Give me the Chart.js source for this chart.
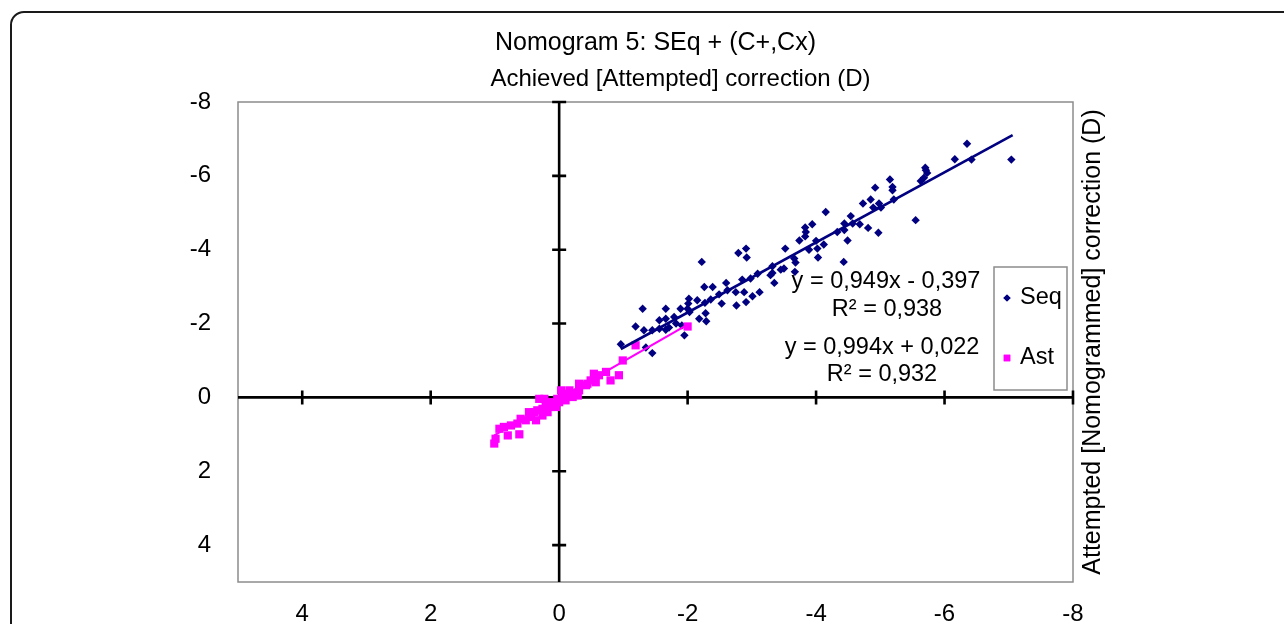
<!DOCTYPE html>
<html>
<head>
<meta charset="utf-8">
<title>Nomogram 5</title>
<script src="https://cdn.jsdelivr.net/npm/chart.js@4.4.0/dist/chart.umd.min.js"></script>
<style>
  html, body { margin: 0; padding: 0; background: #fff; overflow: hidden; }
  #wrap { position: relative; width: 1284px; height: 624px; }
  #frame { position: absolute; left: 10px; top: 11px; width: 1400px; height: 800px;
           border: 2px solid #1a1a1a; border-radius: 14px; box-sizing: border-box; }
  #chart { position: absolute; left: 0; top: 0; }
</style>
</head>
<body>
<div id="wrap">
  <div id="frame"></div>
  <canvas id="chart" width="1284" height="624"></canvas>
</div>
<script>
// Achieved (x) vs attempted (y) correction, dioptres
const seqX = [-7.04, -6.35, -6.16, -6.42, -5.70, -5.71, -5.73, -5.68, -5.63, -5.15,
  -5.19, -5.19, -5.21, -4.92, -4.85, -4.73, -4.89, -4.98, -5.01, -5.55,
  -4.97, -4.81, -4.68, -4.57, -4.44, -4.44, -4.49, -4.54, -4.33, -4.15,
  -4.43, -3.94, -3.83, -3.84, -3.83, -3.74, -4.00, -3.89, -4.02, -4.12,
  -4.03, -3.52, -3.66, -3.68, -3.67, -3.50, -3.45, -3.32, -3.32, -3.35,
  -3.29, -2.79, -2.91, -2.92, -2.22, -3.09, -2.98, -2.85, -2.75, -2.88,
  -3.01, -3.12, -2.91, -2.76, -2.60, -2.62, -2.49, -2.39, -2.26, -2.36,
  -2.27, -2.15, -2.53, -2.02, -2.01, -2.00, -1.89, -2.03, -2.18, -2.28,
  -2.29, -1.66, -1.56, -1.66, -1.79, -1.82, -1.71, -1.66, -1.56, -1.45,
  -1.32, -1.30, -1.19, -1.91, -1.95, -1.35, -1.45, -0.96];
const seqY = [-6.44, -6.87, -6.45, -6.44, -6.22, -6.15, -6.08, -5.95, -5.86, -5.90,
  -5.70, -5.61, -5.36, -5.68, -5.36, -5.25, -5.14, -5.25, -5.14, -4.80,
  -4.46, -4.59, -4.69, -4.71, -4.71, -4.53, -4.25, -4.91, -4.48, -5.02,
  -3.67, -4.69, -4.60, -4.48, -4.36, -4.25, -4.24, -4.00, -4.03, -4.14,
  -3.79, -4.03, -3.76, -3.65, -3.40, -3.49, -3.46, -3.55, -3.37, -3.10,
  -3.31, -3.91, -4.03, -3.79, -3.67, -3.35, -3.22, -3.19, -2.85, -2.85,
  -2.74, -2.85, -2.58, -2.49, -3.10, -2.90, -2.79, -2.99, -2.99, -2.65,
  -2.56, -2.63, -2.54, -2.67, -2.54, -2.40, -2.40, -2.31, -2.13, -2.28,
  -2.06, -2.40, -2.09, -2.13, -2.18, -2.00, -1.89, -1.83, -1.86, -1.82,
  -1.82, -2.40, -1.92, -1.95, -1.68, -1.35, -1.20, -1.44];

const astX = [-0.99, -0.93, -0.80, -0.73, -0.62, -0.54, -0.57, -0.49, -0.42, -0.31,
  -0.23, -0.29, -0.16, -0.10, -0.05, 0.03, 0.00, 0.08, 0.16, 0.13,
  0.21, 0.26, 0.31, 0.34, 0.39, 0.26, 0.44, 0.52, 0.60, 0.65,
  0.75, 0.86, 0.93, 0.99, 1.01, 0.80, 0.62, 0.23, 0.05, -0.10,
  -0.21, -0.31, -0.44, -1.19, -2.00, 0.18, -0.03, 0.36, 0.47];
const astY = [-1.00, -0.60, -0.46, -0.69, -0.60, -0.64, -0.41, -0.46, -0.33, -0.37,
  -0.10, -0.05, -0.19, -0.10, -0.01, 0.04, 0.13, 0.17, 0.13, 0.26,
  0.22, 0.31, 0.04, 0.35, 0.40, 0.49, 0.53, 0.62, 0.58, 0.71,
  0.76, 0.80, 0.85, 1.12, 1.25, 1.03, 1.00, 0.04, 0.26, 0.08,
  -0.01, -0.19, -0.37, -1.41, -1.92, 0.40, -0.19, 0.62, 0.40];

// linear trend lines (end points)
const seqTrendX = [-0.96, -7.06];
const seqTrendY = [-1.31, -7.10];
const astTrendX = [1.01, -2.00];
const astTrendY = [1.03, -1.97];

const xTicks = [4, 2, 0, -2, -4, -6, -8];
const yTicks = [-8, -6, -4, -2, 0, 2, 4];

const seqEquation = ['y = 0,949x - 0,397', 'R² = 0,938'];
const astEquation = ['y = 0,994x + 0,022', 'R² = 0,932'];

const SEQ_COLOR = '#000080';
const AST_COLOR = '#ff00ff';
const FONT = "'Liberation Sans', Arial, sans-serif";

function toPoints(xs, ys) {
  return xs.map((x, i) => ({ x: x, y: ys[i] }));
}

// zero-crossing axes, plot border, legend, labels (Excel style)
const excelLook = {
  id: 'excelLook',
  beforeDatasetsDraw(chart) {
    const { ctx, chartArea: a, scales } = chart;
    const x0 = scales.x.getPixelForValue(0);
    const y0 = scales.y.getPixelForValue(0);
    ctx.save();
    ctx.strokeStyle = '#8c8c8c';
    ctx.lineWidth = 1.5;
    ctx.strokeRect(a.left, a.top, a.right - a.left, a.bottom - a.top);

    ctx.strokeStyle = '#000';
    ctx.lineWidth = 2.6;
    ctx.beginPath();
    ctx.moveTo(a.left, y0); ctx.lineTo(a.right, y0);
    ctx.moveTo(x0, a.top); ctx.lineTo(x0, a.bottom);
    scales.x.ticks.forEach(t => {
      if (t.value === 0) return;
      const px = scales.x.getPixelForValue(t.value);
      ctx.moveTo(px, y0 - 7); ctx.lineTo(px, y0 + 7);
    });
    scales.y.ticks.forEach(t => {
      if (t.value === 0) return;
      const py = scales.y.getPixelForValue(t.value);
      ctx.moveTo(x0 - 7, py); ctx.lineTo(x0 + 7, py);
    });
    ctx.stroke();
    ctx.restore();
  },
  afterDraw(chart) {
    const { ctx, chartArea: a } = chart;
    ctx.save();
    ctx.fillStyle = '#000';
    ctx.textAlign = 'center';
    ctx.textBaseline = 'middle';

    // top axis title
    ctx.font = '24px ' + FONT;
    ctx.fillText('Achieved [Attempted] correction (D)', (a.left + a.right) / 2 + 25, 79);

    // right axis title
    ctx.save();
    ctx.translate(a.right + 20, (a.top + a.bottom) / 2);
    ctx.rotate(-Math.PI / 2);
    ctx.font = '25px ' + FONT;
    ctx.fillText('Attempted [Nomogrammed] correction (D)', 0, 0);
    ctx.restore();

    // trendline equations
    ctx.font = '23.5px ' + FONT;
    ctx.fillText(seqEquation[0], a.right - 187, 282);
    ctx.fillText(seqEquation[1], a.right - 186, 310);
    ctx.fillText(astEquation[0], a.right - 191, 348);
    ctx.fillText(astEquation[1], a.right - 191, 375);

    // legend box
    const bx = a.right - 79, by = 267, bw = 73, bh = 123;
    ctx.fillStyle = '#fff';
    ctx.fillRect(bx, by, bw, bh);
    ctx.strokeStyle = '#8c8c8c';
    ctx.lineWidth = 1.5;
    ctx.strokeRect(bx, by, bw, bh);

    const ds = chart.data.datasets;
    const rows = [{ d: ds[0], y: by + 31 }, { d: ds[1], y: by + 91 }];
    rows.forEach(r => {
      ctx.fillStyle = r.d.backgroundColor;
      Chart.helpers.drawPoint(ctx, {
        pointStyle: r.d.pointStyle,
        radius: r.d.pointStyle === 'rect' ? 4.6 : 3.6,
        borderWidth: 0
      }, bx + 13, r.y);
      ctx.fill();
      ctx.fillStyle = '#000';
      ctx.textAlign = 'left';
      ctx.font = '23.5px ' + FONT;
      ctx.fillText(r.d.label, bx + 26, r.y);
    });
    ctx.restore();
  }
};

Chart.defaults.font.family = FONT;
Chart.defaults.color = '#000';

const chart = new Chart(document.getElementById('chart'), {
  type: 'scatter',
  data: {
    datasets: [
      {
        label: 'Seq',
        data: toPoints(seqX, seqY),
        pointStyle: 'rectRot',
        pointRadius: 4.2,
        backgroundColor: SEQ_COLOR,
        borderColor: SEQ_COLOR,
        borderWidth: 0,
        order: 2
      },
      {
        label: 'Ast',
        data: toPoints(astX, astY),
        pointStyle: 'rect',
        pointRadius: 5.8,
        backgroundColor: AST_COLOR,
        borderColor: AST_COLOR,
        borderWidth: 0,
        order: 1
      },
      {
        label: 'Seq trend',
        data: toPoints(seqTrendX, seqTrendY),
        showLine: true,
        pointRadius: 0,
        borderColor: SEQ_COLOR,
        borderWidth: 2.6,
        order: 0
      },
      {
        label: 'Ast trend',
        data: toPoints(astTrendX, astTrendY),
        showLine: true,
        pointRadius: 0,
        borderColor: AST_COLOR,
        borderWidth: 2.2,
        order: 0
      }
    ]
  },
  options: {
    responsive: false,
    animation: false,
    layout: { padding: { left: 0, right: 211, top: 0, bottom: 0 } },
    plugins: {
      legend: { display: false },
      tooltip: { enabled: false },
      title: {
        display: true,
        fullSize: false,
        text: 'Nomogram 5: SEq + (C+,Cx)',
        color: '#000',
        font: { size: 25, weight: 'normal' },
        padding: { top: 28, bottom: 44 }
      }
    },
    scales: {
      x: {
        type: 'linear',
        min: -8,
        max: 5,
        reverse: true,
        afterBuildTicks: s => { s.ticks = xTicks.map(v => ({ value: v })); },
        afterFit: s => { s.height = 42; },
        grid: { display: false },
        border: { display: false },
        ticks: { padding: 10, color: '#000', font: { size: 24 } }
      },
      y: {
        type: 'linear',
        min: -8,
        max: 5,
        reverse: true,
        afterBuildTicks: s => { s.ticks = yTicks.map(v => ({ value: v })); },
        afterFit: s => { s.width = 238; },
        grid: { display: false },
        border: { display: false },
        ticks: { padding: 19, color: '#000', font: { size: 24 } }
      }
    }
  },
  plugins: [excelLook]
});
</script>
</body>
</html>
